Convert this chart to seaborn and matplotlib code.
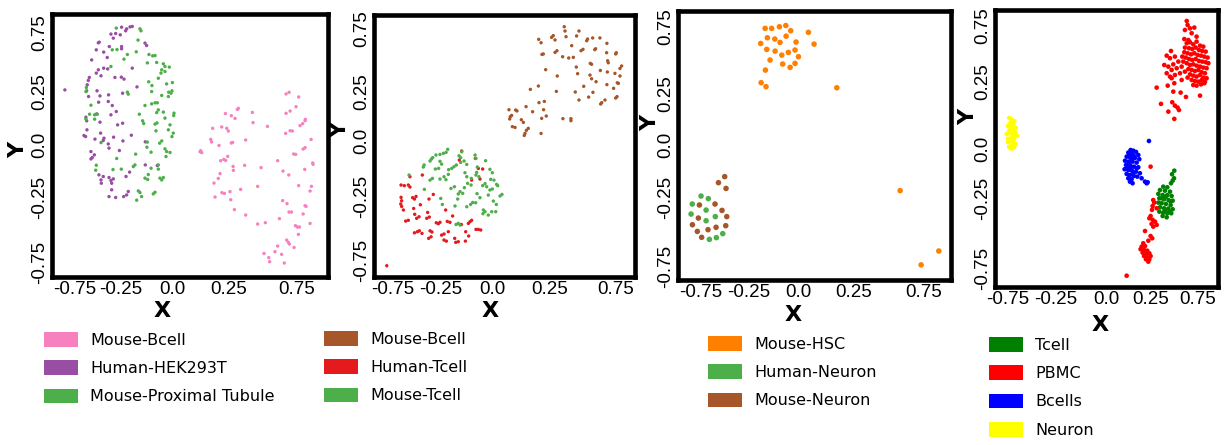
import numpy as np
import pandas as pd
import matplotlib
matplotlib.use("Agg")
import matplotlib.pyplot as plt
import seaborn as sns
from matplotlib.patches import Patch

sns.set_theme(style="white")
plt.rcParams["font.family"] = ["DejaVu Sans"]
plt.rcParams["text.color"] = "black"

# ---------------- Panel 1 data ----------------
p1_labels = ["Mouse-Bcell", "Human-HEK293T", "Mouse-Proximal Tubule"]
p1_colors = ["#F781BF", "#984EA3", "#4DAF4A"]
p1_mouse_bcell = [
    (0.676, 0.357), (0.696, 0.368), (0.761, 0.337), (0.743, 0.272), (0.703, 0.243), (0.676, 0.228),
    (0.354, 0.261), (0.347, 0.254), (0.266, 0.226), (0.306, 0.212), (0.331, 0.194), (0.448, 0.234),
    (0.453, 0.166), (0.550, 0.141), (0.180, 0.128), (0.241, 0.137), (0.275, 0.128), (0.286, 0.110),
    (0.673, 0.094), (0.703, 0.112), (0.718, 0.110), (0.770, 0.146), (0.788, 0.159), (0.804, 0.179),
    (0.806, 0.188), (0.167, 0.054), (0.173, 0.037), (0.315, 0.034), (0.306, 0.030), (0.403, 0.050),
    (0.845, 0.054), (0.223, 0.014), (0.804, -0.001), (0.791, -0.010), (0.099, -0.021), (0.106, -0.034),
    (0.095, -0.028), (0.282, -0.059), (0.255, -0.079), (0.268, -0.086), (0.234, -0.088), (0.727, -0.043),
    (0.741, -0.046), (0.619, -0.088), (0.856, -0.103), (0.858, -0.112), (0.396, -0.119), (0.318, -0.126),
    (0.320, -0.152), (0.507, -0.134), (0.655, -0.157), (0.694, -0.183), (0.802, -0.146), (0.230, -0.174),
    (0.218, -0.206), (0.189, -0.237), (0.369, -0.279), (0.484, -0.259), (0.761, -0.254), (0.847, -0.259),
    (0.838, -0.290), (0.243, -0.301), (0.259, -0.306), (0.297, -0.294), (0.196, -0.330), (0.302, -0.348),
    (0.653, -0.354), (0.682, -0.374), (0.804, -0.388), (0.811, -0.392), (0.327, -0.414), (0.403, -0.450),
    (0.696, -0.430), (0.712, -0.430), (0.791, -0.443), (0.484, -0.510), (0.536, -0.501), (0.631, -0.474),
    (0.739, -0.521), (0.752, -0.530), (0.766, -0.530), (0.838, -0.506), (0.759, -0.579), (0.680, -0.617),
    (0.691, -0.632), (0.698, -0.643), (0.730, -0.666), (0.619, -0.657), (0.527, -0.706), (0.601, -0.694),
    (0.646, -0.712), (0.559, -0.734), (0.565, -0.761), (0.664, -0.770),
]
p1_human_hek = [
    (-0.818, 0.384), (-0.435, 0.802), (-0.401, 0.791), (-0.378, 0.804), (-0.363, 0.807), (-0.408, 0.778),
    (-0.507, 0.756), (-0.475, 0.760), (-0.444, 0.751), (-0.491, 0.729), (-0.277, 0.696), (-0.266, 0.680),
    (-0.586, 0.702), (-0.592, 0.698), (-0.518, 0.673), (-0.435, 0.673), (-0.435, 0.658), (-0.606, 0.651),
    (-0.556, 0.636), (-0.637, 0.584), (-0.532, 0.600), (-0.363, 0.529), (-0.592, 0.518), (-0.556, 0.529),
    (-0.529, 0.524), (-0.606, 0.496), (-0.574, 0.478), (-0.653, 0.467), (-0.660, 0.447), (-0.667, 0.418),
    (-0.480, 0.467), (-0.437, 0.469), (-0.419, 0.456), (-0.331, 0.404), (-0.601, 0.378), (-0.581, 0.344),
    (-0.523, 0.351), (-0.428, 0.362), (-0.671, 0.378), (-0.658, 0.340), (-0.590, 0.302), (-0.525, 0.307),
    (-0.498, 0.280), (-0.471, 0.240), (-0.507, 0.218), (-0.604, 0.224), (-0.671, 0.178), (-0.676, 0.202),
    (-0.581, 0.169), (-0.462, 0.151), (-0.428, 0.162), (-0.669, 0.118), (-0.689, 0.080), (-0.678, 0.073),
    (-0.577, 0.096), (-0.554, 0.062), (-0.559, 0.047), (-0.489, 0.069), (-0.369, 0.082), (-0.615, 0.056),
    (-0.525, 0.024), (-0.520, -0.004), (-0.426, 0.044), (-0.275, 0.038), (-0.642, -0.027), (-0.619, -0.049),
    (-0.633, -0.067), (-0.642, -0.076), (-0.450, -0.020), (-0.275, -0.116), (-0.194, -0.120), (-0.588, -0.182),
    (-0.559, -0.193), (-0.520, -0.200), (-0.491, -0.209), (-0.502, -0.238), (-0.574, -0.216), (-0.572, -0.238),
    (-0.507, -0.220), (-0.405, -0.193), (-0.381, -0.164), (-0.502, -0.282), (-0.520, -0.327), (-0.475, -0.333),
    (-0.421, -0.327), (-0.401, -0.316), (-0.390, -0.293),
]
p1_mouse_pt = [
    (-0.471, 0.796), (-0.311, 0.791), (-0.304, 0.778), (-0.324, 0.716), (-0.498, 0.651), (-0.466, 0.653),
    (-0.396, 0.620), (-0.336, 0.638), (-0.419, 0.589), (-0.250, 0.620), (-0.225, 0.611), (-0.209, 0.613),
    (-0.261, 0.564), (-0.198, 0.567), (-0.153, 0.558), (-0.142, 0.540), (-0.113, 0.536), (-0.164, 0.518),
    (-0.169, 0.496), (-0.142, 0.507), (-0.187, 0.462), (-0.507, 0.540), (-0.673, 0.400), (-0.676, 0.373),
    (-0.252, 0.438), (-0.230, 0.413), (-0.131, 0.424), (-0.092, 0.433), (-0.396, 0.369), (-0.390, 0.356),
    (-0.232, 0.373), (-0.164, 0.347), (-0.117, 0.369), (-0.101, 0.362), (-0.095, 0.378), (-0.119, 0.340),
    (-0.642, 0.282), (-0.277, 0.280), (-0.232, 0.291), (-0.209, 0.298), (-0.194, 0.298), (-0.187, 0.251),
    (-0.153, 0.236), (-0.198, 0.233), (-0.651, 0.222), (-0.617, 0.218), (-0.599, 0.222), (-0.315, 0.222),
    (-0.081, 0.229), (-0.083, 0.213), (-0.142, 0.196), (-0.293, 0.178), (-0.286, 0.160), (-0.209, 0.156),
    (-0.196, 0.164), (-0.676, 0.189), (-0.617, 0.189), (-0.108, 0.151), (-0.119, 0.118), (-0.086, 0.096),
    (-0.095, 0.073), (-0.203, 0.111), (-0.574, 0.033), (-0.261, 0.036), (-0.264, 0.002), (-0.164, 0.044),
    (-0.178, 0.029), (-0.142, -0.009), (-0.131, -0.027), (-0.108, -0.033), (-0.135, -0.060), (-0.236, -0.031),
    (-0.340, -0.044), (-0.468, -0.073), (-0.606, -0.118), (-0.610, -0.151), (-0.493, -0.147), (-0.437, -0.144),
    (-0.356, -0.127), (-0.345, -0.116), (-0.236, -0.138), (-0.187, -0.144), (-0.187, -0.116), (-0.255, -0.180),
    (-0.277, -0.204), (-0.259, -0.213), (-0.176, -0.204), (-0.153, -0.200), (-0.164, -0.216), (-0.322, -0.289),
    (-0.311, -0.300), (-0.300, -0.327), (-0.333, -0.351), (-0.209, -0.298), (-0.221, -0.309),
]

# ---------------- Panel 2 data ----------------
p2_labels = ["Mouse-Bcell", "Human-Tcell", "Mouse-Tcell"]
p2_colors = ["#A65628", "#E41A1C", "#4DAF4A"]
p2_mouse_bcell = [
    (0.402, 0.765), (0.407, 0.737), (0.414, 0.700), (0.485, 0.705), (0.501, 0.737), (0.328, 0.707),
    (0.317, 0.696), (0.340, 0.679), (0.230, 0.683), (0.246, 0.661), (0.559, 0.685), (0.553, 0.674),
    (0.593, 0.692), (0.642, 0.692), (0.689, 0.657), (0.452, 0.642), (0.528, 0.618), (0.515, 0.609),
    (0.613, 0.622), (0.607, 0.616), (0.353, 0.609), (0.340, 0.598), (0.261, 0.588), (0.252, 0.585),
    (0.687, 0.596), (0.748, 0.588), (0.752, 0.596), (0.391, 0.570), (0.432, 0.562), (0.463, 0.566),
    (0.694, 0.544), (0.698, 0.531), (0.577, 0.527), (0.586, 0.521), (0.788, 0.510), (0.777, 0.494),
    (0.483, 0.503), (0.277, 0.486), (0.645, 0.481), (0.692, 0.471), (0.743, 0.462), (0.492, 0.460),
    (0.575, 0.451), (0.586, 0.427), (0.616, 0.408), (0.777, 0.445), (0.355, 0.445), (0.759, 0.401),
    (0.766, 0.397), (0.689, 0.389), (0.533, 0.378), (0.734, 0.365), (0.228, 0.380), (0.174, 0.358),
    (0.349, 0.345), (0.476, 0.341), (0.595, 0.339), (0.757, 0.311), (0.748, 0.302), (0.566, 0.308),
    (0.501, 0.289), (0.676, 0.289), (0.654, 0.272), (0.647, 0.263), (0.268, 0.280), (0.232, 0.272),
    (0.145, 0.246), (0.263, 0.226), (0.189, 0.213), (0.030, 0.226), (0.075, 0.224), (0.084, 0.218),
    (0.048, 0.189), (0.039, 0.181), (0.035, 0.166), (0.281, 0.185), (0.250, 0.170), (0.113, 0.161),
    (0.127, 0.144), (0.393, 0.168), (0.447, 0.168), (0.447, 0.155), (0.053, 0.116), (0.071, 0.111),
    (0.160, 0.105), (0.147, 0.092), (0.138, 0.072), (0.133, 0.059), (0.246, 0.072),
]
p2_human_tcell = [
    (-0.696, -0.263), (-0.674, -0.267), (-0.636, -0.276), (-0.647, -0.263), (-0.636, -0.209), (-0.553, -0.198),
    (-0.288, -0.042), (-0.304, -0.101), (-0.196, -0.090), (-0.176, -0.155), (-0.147, -0.159), (-0.221, -0.231),
    (-0.165, -0.224), (-0.696, -0.343), (-0.692, -0.365), (-0.698, -0.386), (-0.692, -0.402), (-0.680, -0.425),
    (-0.618, -0.345), (-0.606, -0.354), (-0.595, -0.337), (-0.479, -0.324), (-0.508, -0.354), (-0.566, -0.391),
    (-0.611, -0.415), (-0.604, -0.453), (-0.575, -0.469), (-0.591, -0.479), (-0.517, -0.441), (-0.506, -0.471),
    (-0.523, -0.479), (-0.647, -0.492), (-0.665, -0.497), (-0.396, -0.425), (-0.459, -0.508), (-0.445, -0.514),
    (-0.434, -0.505), (-0.385, -0.499), (-0.367, -0.505), (-0.349, -0.464), (-0.232, -0.501), (-0.221, -0.492),
    (-0.243, -0.512), (-0.290, -0.519), (-0.606, -0.573), (-0.586, -0.566), (-0.573, -0.560), (-0.555, -0.577),
    (-0.501, -0.560), (-0.488, -0.568), (-0.510, -0.609), (-0.494, -0.599), (-0.423, -0.588), (-0.407, -0.581),
    (-0.378, -0.566), (-0.407, -0.620), (-0.391, -0.627), (-0.335, -0.609), (-0.328, -0.635), (-0.311, -0.631),
    (-0.261, -0.566), (-0.241, -0.594), (-0.263, -0.627), (-0.192, -0.551), (-0.176, -0.551), (-0.160, -0.555),
    (-0.792, -0.787),
]
p2_mouse_tcell = [
    (-0.382, -0.031), (-0.393, -0.051), (-0.411, -0.057), (-0.434, -0.064), (-0.461, -0.068), (-0.483, -0.085),
    (-0.501, -0.107), (-0.492, -0.094), (-0.541, -0.133), (-0.546, -0.146), (-0.288, -0.047), (-0.306, -0.073),
    (-0.295, -0.085), (-0.272, -0.107), (-0.198, -0.068), (-0.192, -0.090), (-0.127, -0.105), (-0.254, -0.129),
    (-0.465, -0.159), (-0.443, -0.155), (-0.423, -0.127), (-0.434, -0.109), (-0.355, -0.155), (-0.376, -0.163),
    (-0.340, -0.144), (-0.324, -0.133), (-0.295, -0.116), (-0.378, -0.194), (-0.407, -0.209), (-0.434, -0.224),
    (-0.485, -0.220), (-0.501, -0.231), (-0.394, -0.228), (-0.642, -0.198), (-0.223, -0.220), (-0.192, -0.198),
    (-0.172, -0.209), (-0.187, -0.181), (-0.098, -0.161), (-0.082, -0.183), (-0.183, -0.146), (-0.266, -0.183),
    (-0.254, -0.209), (-0.093, -0.226), (-0.071, -0.231), (-0.131, -0.254), (-0.147, -0.267), (-0.120, -0.274),
    (-0.053, -0.259), (-0.046, -0.267), (-0.082, -0.289), (-0.098, -0.295), (-0.109, -0.328), (-0.017, -0.324),
    (-0.030, -0.334), (-0.248, -0.252), (-0.225, -0.263), (-0.270, -0.280), (-0.360, -0.285), (-0.337, -0.274),
    (-0.299, -0.306), (-0.311, -0.321), (-0.281, -0.317), (-0.315, -0.354), (-0.333, -0.399), (-0.429, -0.350),
    (-0.418, -0.389), (-0.185, -0.319), (-0.165, -0.345), (-0.214, -0.376), (-0.228, -0.389), (-0.254, -0.404),
    (-0.194, -0.378), (-0.075, -0.367), (-0.055, -0.389), (-0.142, -0.425), (-0.131, -0.436), (-0.145, -0.449),
    (-0.109, -0.458), (-0.086, -0.436), (-0.059, -0.436), (-0.311, -0.512), (-0.299, -0.523), (-0.326, -0.519),
    (-0.539, -0.291),
]

# ---------------- Panel 3 data ----------------
p3_labels = ["Mouse-HSC", "Human-Neuron", "Mouse-Neuron"]
p3_colors = ["#FF7F00", "#4DAF4A", "#A65628"]
p3_mouse_hsc = [
    (-0.319, 0.742), (-0.275, 0.742), (-0.223, 0.752), (-0.180, 0.760), (-0.147, 0.727), (-0.349, 0.647),
    (-0.304, 0.683), (-0.254, 0.675), (-0.219, 0.654), (-0.178, 0.693), (-0.111, 0.656), (-0.308, 0.610),
    (-0.252, 0.599), (-0.207, 0.574), (-0.163, 0.591), (-0.118, 0.606), (-0.095, 0.564), (-0.286, 0.543),
    (-0.201, 0.518), (-0.151, 0.497), (-0.118, 0.522), (-0.317, 0.480), (-0.346, 0.401), (-0.313, 0.376),
    (-0.028, 0.717), (0.010, 0.643), (0.163, 0.369), (0.589, -0.277), (0.730, -0.743), (0.849, -0.656),
]
p3_human_neuron = [
    (-0.750, -0.311), (-0.809, -0.361), (-0.701, -0.327), (-0.817, -0.424), (-0.716, -0.399),
    (-0.716, -0.466), (-0.654, -0.440), (-0.694, -0.583), (-0.647, -0.572), (-0.604, -0.547),
]
p3_mouse_neuron = [
    (-0.591, -0.189), (-0.633, -0.227), (-0.582, -0.263), (-0.761, -0.367), (-0.656, -0.361),
    (-0.609, -0.401), (-0.768, -0.449), (-0.577, -0.440), (-0.808, -0.491), (-0.649, -0.507),
    (-0.584, -0.497), (-0.775, -0.533), (-0.703, -0.522), (-0.746, -0.570),
]

# ---------------- Panel 4 data ----------------
p4_labels = ["Tcell", "PBMC", "Bcells", "Neuron"]
p4_colors = ["#008000", "#FF0000", "#0000FF", "#FFFF00"]
p4_neuron = [
    (-0.74, 0.18), (-0.72, 0.17), (-0.70, 0.16), (-0.73, 0.15), (-0.71, 0.14), (-0.75, 0.13),
    (-0.69, 0.12), (-0.72, 0.12), (-0.74, 0.10), (-0.70, 0.10), (-0.73, 0.09), (-0.71, 0.08),
    (-0.76, 0.08), (-0.68, 0.07), (-0.72, 0.06), (-0.74, 0.05), (-0.70, 0.05), (-0.73, 0.04),
    (-0.71, 0.03), (-0.75, 0.03), (-0.69, 0.02), (-0.72, 0.01), (-0.74, 0.00), (-0.70, 0.00),
    (-0.72, -0.01), (-0.73, 0.11), (-0.71, 0.07), (-0.69, 0.09), (-0.75, 0.05), (-0.72, 0.14),
]
p4_bcells = [
    (0.218, -0.019), (0.239, -0.023), (0.261, -0.031), (0.200, -0.035), (0.229, -0.043), (0.279, -0.050),
    (0.187, -0.060), (0.213, -0.064), (0.253, -0.068), (0.287, -0.076), (0.174, -0.085), (0.200, -0.091),
    (0.234, -0.091), (0.266, -0.097), (0.182, -0.112), (0.218, -0.118), (0.245, -0.122), (0.279, -0.126),
    (0.171, -0.138), (0.200, -0.143), (0.229, -0.147), (0.261, -0.153), (0.292, -0.163), (0.187, -0.167),
    (0.213, -0.174), (0.245, -0.180), (0.200, -0.194), (0.226, -0.200), (0.213, -0.215), (0.234, -0.225),
    (0.305, -0.194), (0.271, -0.184), (0.332, -0.215), (0.345, -0.225), (0.353, -0.219), (0.363, 0.037),
    (0.208, -0.050), (0.245, -0.056), (0.226, -0.076), (0.192, -0.126), (0.239, -0.159), (0.218, -0.138),
    (0.266, -0.132), (0.208, -0.101),
]
p4_tcell = [
    (0.563, -0.147), (0.545, -0.169), (0.561, -0.194), (0.550, -0.209), (0.537, -0.225),
    (0.476, -0.246), (0.508, -0.250), (0.450, -0.267), (0.489, -0.271), (0.529, -0.277), (0.437, -0.291),
    (0.471, -0.298), (0.508, -0.298), (0.542, -0.304), (0.445, -0.318), (0.482, -0.324), (0.518, -0.329),
    (0.550, -0.333), (0.437, -0.345), (0.463, -0.349), (0.497, -0.353), (0.534, -0.360), (0.450, -0.374),
    (0.482, -0.380), (0.516, -0.382), (0.550, -0.386), (0.445, -0.401), (0.476, -0.407), (0.508, -0.411),
    (0.539, -0.411), (0.471, -0.428), (0.503, -0.436), (0.489, -0.390), (0.524, -0.401), (0.463, -0.318),
    (0.497, -0.308), (0.534, -0.339),
]
p4_pbmc = [
    (0.661, 0.781), (0.668, 0.756), (0.647, 0.725), (0.687, 0.735), (0.721, 0.740), (0.700, 0.705),
    (0.739, 0.684), (0.642, 0.669), (0.674, 0.663),
    (0.537, 0.595), (0.503, 0.566), (0.529, 0.550), (0.568, 0.560), (0.484, 0.508), (0.516, 0.498),
    (0.555, 0.512), (0.595, 0.529), (0.542, 0.477), (0.582, 0.488), (0.503, 0.457), (0.529, 0.436),
    (0.568, 0.446), (0.608, 0.457), (0.542, 0.426), (0.621, 0.415), (0.563, 0.395),
    (0.424, 0.368), (0.511, 0.380), (0.555, 0.343), (0.613, 0.337), (0.655, 0.310), (0.766, 0.318),
    (0.458, 0.267), (0.547, 0.277), (0.568, 0.256), (0.589, 0.244), (0.516, 0.219), (0.563, 0.174),
    (0.600, 0.229),
    (0.661, 0.643), (0.687, 0.649), (0.713, 0.636), (0.739, 0.653), (0.766, 0.628), (0.792, 0.622),
    (0.647, 0.616), (0.679, 0.612), (0.705, 0.607), (0.732, 0.616), (0.758, 0.601), (0.784, 0.595),
    (0.811, 0.591), (0.642, 0.587), (0.668, 0.581), (0.695, 0.574), (0.721, 0.581), (0.747, 0.570),
    (0.774, 0.566), (0.800, 0.560), (0.826, 0.554), (0.653, 0.554), (0.679, 0.545), (0.705, 0.539),
    (0.732, 0.545), (0.758, 0.533), (0.784, 0.529), (0.811, 0.525), (0.832, 0.519), (0.661, 0.519),
    (0.687, 0.508), (0.713, 0.512), (0.739, 0.504), (0.766, 0.498), (0.792, 0.492), (0.818, 0.488),
    (0.674, 0.483), (0.700, 0.477), (0.726, 0.471), (0.753, 0.477), (0.779, 0.463), (0.805, 0.457),
    (0.687, 0.450), (0.713, 0.442), (0.739, 0.436), (0.766, 0.446), (0.792, 0.430), (0.818, 0.426),
    (0.700, 0.415), (0.726, 0.409), (0.753, 0.405), (0.779, 0.415), (0.805, 0.405), (0.713, 0.384),
    (0.739, 0.380), (0.774, 0.388), (0.800, 0.395), (0.634, 0.529), (0.626, 0.560), (0.621, 0.498),
    (0.647, 0.467), (0.668, 0.430),
    (0.376, -0.122),
    (0.397, -0.329), (0.405, -0.345), (0.392, -0.366), (0.387, -0.390), (0.424, -0.380), (0.376, -0.428),
    (0.366, -0.442), (0.392, -0.452), (0.411, -0.463), (0.384, -0.477), (0.424, -0.483), (0.397, -0.494),
    (0.332, -0.521), (0.376, -0.552), (0.389, -0.566), (0.358, -0.581), (0.318, -0.597), (0.305, -0.618),
    (0.332, -0.614), (0.297, -0.634), (0.324, -0.638), (0.350, -0.643), (0.313, -0.655), (0.339, -0.663),
    (0.366, -0.659), (0.324, -0.676), (0.350, -0.684), (0.376, -0.676), (0.339, -0.696), (0.366, -0.696),
    (0.358, -0.711), (0.187, -0.798),
]

# ---------------- Axis tick labels (the original axes label ticks unevenly) ----------------
tick_text = ["-0.75", "-0.25", "0.0", "0.25", "0.75"]
p1_xtick_pos = [-0.75, -0.439, -0.095, 0.291, 0.75]
p1_ytick_pos = [-0.763, -0.33, 0.017, 0.37, 0.763]
p2_xtick_pos = [-0.75, -0.427, -0.084, 0.306, 0.75]
p2_ytick_pos = [-0.75, -0.334, 0.023, 0.341, 0.75]
p3_xtick_pos = [-0.75, -0.427, -0.098, 0.279, 0.75]
p3_ytick_pos = [-0.75, -0.317, 0.009, 0.330, 0.75]
p4_xtick_pos = [-0.75, -0.371, 0.024, 0.379, 0.75]
p4_ytick_pos = [-0.75, -0.316, -0.012, 0.403, 0.75]


def make_frame(groups):
    rows = []
    for lab, pts in groups:
        for x, y in pts:
            rows.append((x, y, lab))
    return pd.DataFrame(rows, columns=["x", "y", "cell"])


panels = [
    dict(df=make_frame([(p1_labels[1], p1_human_hek), (p1_labels[2], p1_mouse_pt), (p1_labels[0], p1_mouse_bcell)]),
         labels=p1_labels, colors=p1_colors, s=6,
         rect=[52 / 1229, 1 - 277 / 445, 276 / 1229, 263 / 445],
         xlim=(-0.905, 0.959), ylim=(-0.863, 0.89),
         xt=p1_xtick_pos, yt=p1_ytick_pos,
         xl=(0.399, -0.13), yl=(-0.123, 0.483), leg=(44 / 1229, 1 - 332 / 445)),
    dict(df=make_frame([(p2_labels[0], p2_mouse_bcell), (p2_labels[1], p2_human_tcell), (p2_labels[2], p2_mouse_tcell)]),
         labels=p2_labels, colors=p2_colors, s=6,
         rect=[374 / 1229, 1 - 277 / 445, 261 / 1229, 262 / 445],
         xlim=(-0.878, 0.878), ylim=(-0.860, 0.841),
         xt=p2_xtick_pos, yt=p2_ytick_pos,
         xl=(0.444, -0.13), yl=(-0.13, 0.561), leg=(324 / 1229, 1 - 331 / 445)),
    dict(df=make_frame([(p3_labels[0], p3_mouse_hsc), (p3_labels[1], p3_human_neuron), (p3_labels[2], p3_mouse_neuron)]),
         labels=p3_labels, colors=p3_colors, s=16,
         rect=[678 / 1229, 1 - 280 / 445, 273 / 1229, 269 / 445],
         xlim=(-0.905, 0.931), ylim=(-0.838, 0.851),
         xt=p3_xtick_pos, yt=p3_ytick_pos,
         xl=(0.421, -0.13), yl=(-0.103, 0.584), leg=(708 / 1229, 1 - 336 / 445)),
    dict(df=make_frame([(p4_labels[3], p4_neuron), (p4_labels[2], p4_bcells), (p4_labels[0], p4_tcell), (p4_labels[1], p4_pbmc)]),
         labels=p4_labels, colors=p4_colors, s=11,
         rect=[995 / 1229, 1 - 287 / 445, 223 / 1229, 277.5 / 445],
         xlim=(-0.852, 0.908), ylim=(-0.868, 0.852),
         xt=p4_xtick_pos, yt=p4_ytick_pos,
         xl=(0.471, -0.137), yl=(-0.121, 0.613), leg=(989 / 1229, 1 - 337 / 445)),
]

fig = plt.figure(figsize=(12.29, 4.45), dpi=100)
fig.patch.set_facecolor("white")

for p in panels:
    ax = fig.add_axes(p["rect"])
    pal = dict(zip(p["labels"], p["colors"]))
    sns.scatterplot(data=p["df"], x="x", y="y", hue="cell", palette=pal, s=p["s"],
                    linewidth=0, legend=False, ax=ax)
    ax.set_xlim(*p["xlim"])
    ax.set_ylim(*p["ylim"])
    ax.set_xticks(p["xt"], tick_text, fontfamily="Liberation Sans", fontsize=13.5)
    ax.set_yticks(p["yt"], tick_text, fontfamily="Liberation Sans", fontsize=13.5,
                  rotation=90, va="center")
    ax.tick_params(length=0, pad=3, colors="black")
    for sp in ax.spines.values():
        sp.set_visible(True)
        sp.set_linewidth(3.3)
        sp.set_color("black")
    ax.set_xlabel("X", fontsize=16, fontweight="bold", color="black")
    ax.set_ylabel("Y", fontsize=16, fontweight="bold", color="black")
    ax.xaxis.set_label_coords(*p["xl"])
    ax.yaxis.set_label_coords(*p["yl"])
    ax.xaxis.label.set_va("center")
    ax.yaxis.label.set_va("center")
    handles = [Patch(facecolor=c, edgecolor="none", label=l) for l, c in zip(p["labels"], p["colors"])]
    leg = fig.legend(handles=handles, loc="upper left", bbox_to_anchor=p["leg"], frameon=False,
                     fontsize=11.5, handlelength=2.15, handleheight=1.05, handletextpad=0.75,
                     labelspacing=0.78, borderpad=0, borderaxespad=0)
    for t in leg.get_texts():
        t.set_color("black")

fig.savefig("out.png", dpi=100, facecolor="white")
